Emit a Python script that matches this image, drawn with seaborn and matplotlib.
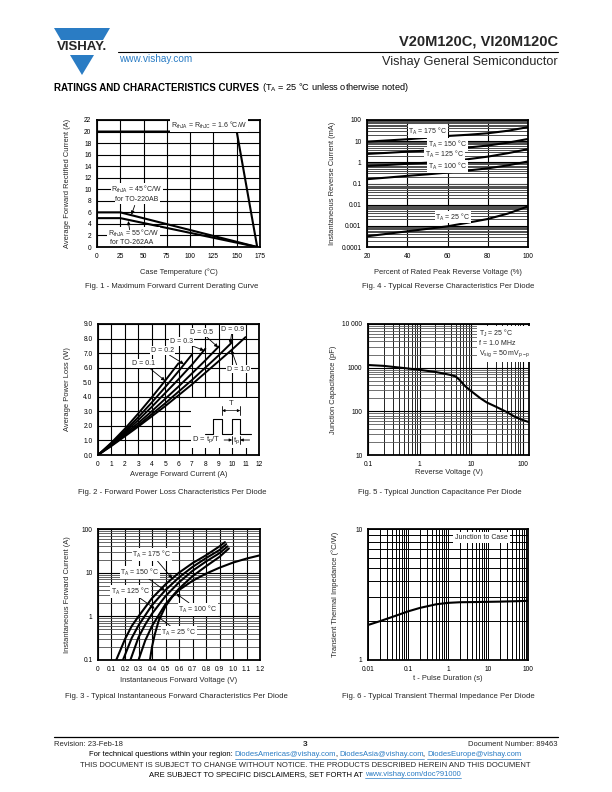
import numpy as np
import pandas as pd
import matplotlib
matplotlib.use("Agg")
import matplotlib.pyplot as plt
import seaborn as sns
from matplotlib.ticker import LogLocator, NullFormatter
from matplotlib.patches import Polygon, Rectangle
from matplotlib.lines import Line2D

# ---------------- data ----------------
# Fig. 1 - derating
f1_t_jc = [0, 150, 172]
f1_i_jc = [20, 20, 0]
f1_t_220 = [0, 25, 172]
f1_i_220 = [6, 6, 0]
f1_t_262 = [0, 25, 172]
f1_i_262 = [5, 5, 0]

# Fig. 4 - reverse current (mA) vs % of rated voltage
f4_pct = [20, 30, 40, 50, 60, 70, 80, 90, 100]
f4_175 = [9.5, 10.8, 12.3, 14.5, 17.6, 20.0, 23.6, 31.0, 46.0]
f4_150 = [2.5, 2.8, 3.2, 3.6, 4.2, 5.0, 6.2, 8.5, 12.7]
f4_125 = [0.68, 0.75, 0.85, 0.96, 1.1, 1.4, 1.86, 2.7, 4.2]
f4_100 = [0.16, 0.19, 0.23, 0.27, 0.33, 0.41, 0.52, 0.72, 1.1]
f4_25 = [0.00032, 0.00042, 0.00055, 0.00072, 0.00095, 0.0014, 0.0021, 0.0038, 0.0083]

# Fig. 2 - power loss vs average current, per duty cycle
f2_d01_i = [0, 1, 2, 3, 4, 5, 6]
f2_d01_p = [0, 0.85, 1.8, 2.85, 3.95, 5.1, 6.3]
f2_d02_i = [0, 1, 2, 3, 4, 5, 6, 7]
f2_d02_p = [0, 0.8, 1.65, 2.6, 3.6, 4.65, 5.75, 6.9]
f2_d03_i = [0, 1, 2, 3, 4, 5, 6, 7, 8]
f2_d03_p = [0, 0.75, 1.55, 2.4, 3.3, 4.25, 5.2, 6.2, 7.3]
f2_d05_i = [0, 1, 2, 3, 4, 5, 6, 7, 8, 9]
f2_d05_p = [0, 0.7, 1.45, 2.2, 3.0, 3.85, 4.7, 5.6, 6.5, 7.45]
f2_d09_i = [0, 1, 2, 3, 4, 5, 6, 7, 8, 9, 10]
f2_d09_p = [0, 0.65, 1.35, 2.05, 2.8, 3.55, 4.35, 5.15, 6.0, 6.85, 7.75]
f2_d10_i = [0, 1, 2, 3, 4, 5, 6, 7, 8, 9, 10, 11]
f2_d10_p = [0, 0.62, 1.28, 1.95, 2.65, 3.35, 4.1, 4.85, 5.65, 6.45, 7.25, 8.1]

# Fig. 5 - junction capacitance (pF) vs reverse voltage
f5_v = [0.1, 0.2, 0.5, 1, 2, 3, 4, 5, 6, 7, 8, 10, 15, 20, 30, 50, 70, 100, 130]
f5_c = [1150, 1100, 980, 890, 800, 730, 680, 630, 520, 420, 360, 290, 200, 160, 128, 95, 75, 63, 57]

# Fig. 3 - forward current (A) vs forward voltage
f3_175_v = [0.135, 0.2, 0.25, 0.3, 0.4, 0.5, 0.6, 0.7, 0.8, 0.9, 0.94]
f3_175_i = [0.1, 0.3, 0.6, 1.0, 2.6, 5.4, 10, 16.5, 25, 40, 50]
f3_150_v = [0.185, 0.25, 0.3, 0.4, 0.5, 0.6, 0.7, 0.8, 0.9, 0.95]
f3_150_i = [0.1, 0.32, 0.62, 1.8, 4.0, 7.8, 13.5, 21.5, 33, 45]
f3_125_v = [0.24, 0.3, 0.35, 0.4, 0.5, 0.6, 0.7, 0.8, 0.9, 0.96]
f3_125_i = [0.1, 0.33, 0.65, 1.15, 2.9, 6.0, 11, 18, 28, 40]
f3_100_v = [0.30, 0.35, 0.4, 0.5, 0.6, 0.7, 0.8, 0.9, 0.97]
f3_100_i = [0.1, 0.28, 0.6, 1.9, 4.3, 8.3, 14, 23, 36]
f3_25_v = [0.385, 0.4, 0.42, 0.45, 0.5, 0.55, 0.6, 0.7, 0.8, 0.9, 1.0, 1.1, 1.2]
f3_25_i = [0.1, 0.2, 0.38, 0.8, 1.7, 2.8, 4.0, 6.5, 9.5, 13, 17, 21, 25]

# Fig. 6 - transient thermal impedance
f6_t = [0.01, 0.02, 0.05, 0.1, 0.2, 0.5, 1, 2, 5, 10, 20, 50, 100]
f6_z = [1.85, 1.98, 2.18, 2.35, 2.5, 2.66, 2.73, 2.76, 2.77, 2.78, 2.79, 2.81, 2.83]

# ---------------- page setup ----------------
sns.set_style("white")
plt.rcParams["font.family"] = ["Liberation Sans", "DejaVu Sans"]
plt.rcParams["mathtext.fontset"] = "custom"
plt.rcParams["mathtext.rm"] = "Liberation Sans"
plt.rcParams["mathtext.it"] = "Liberation Sans:italic"
plt.rcParams["mathtext.bf"] = "Liberation Sans:bold"

W, H = 612, 792
BLUE = "#2a7cc4"
fig = plt.figure(figsize=(W / 100, H / 100), dpi=100)


def fx(x):
    return x / W


def fy(y):
    return 1 - y / H


def add_ax(x0, y0, x1, y1):
    return fig.add_axes([x0 / W, 1 - y1 / H, (x1 - x0) / W, (y1 - y0) / H])


def style_ax(ax, xlabel, ylabel, xlab_y, ylab_x):
    for s in ax.spines.values():
        s.set_visible(True)
        s.set_color("black")
        s.set_linewidth(1.3)
    ax.tick_params(which="both", length=0, labelsize=4.8, pad=4, colors="black")
    ax.set_axisbelow(True)
    ax.set_xlabel(xlabel, fontsize=5.4)
    ax.set_ylabel(ylabel, fontsize=5.4)
    bb = ax.get_position()
    ax.xaxis.set_label_coords((bb.x0 + bb.x1) / 2, fy(xlab_y), transform=fig.transFigure)
    ax.xaxis.label.set_va("center")
    ax.yaxis.set_label_coords(fx(ylab_x), (bb.y0 + bb.y1) / 2, transform=fig.transFigure)
    ax.yaxis.label.set_va("center")


def log_minor(axis):
    axis.set_minor_locator(LogLocator(base=10, subs=np.arange(2, 10), numticks=100))
    axis.set_minor_formatter(NullFormatter())


def curve(ax, x, y, lw=1.5):
    sns.lineplot(x=x, y=y, ax=ax, color="black", linewidth=lw, estimator=None, sort=False)


BOX = dict(fc="white", ec="none", pad=0.6)
ARROW = dict(arrowstyle="-|>", lw=0.6, color="black", mutation_scale=5, shrinkA=0, shrinkB=0)


def caption(x, y, s):
    fig.text(fx(x), fy(y), s, fontsize=5.6, ha="center", va="center")


# ---------------- Fig. 1 ----------------
ax1 = add_ax(97, 120, 260, 247)
ax1.grid(True, color="black", lw=0.8)
curve(ax1, f1_t_jc, f1_i_jc)
curve(ax1, f1_t_220, f1_i_220)
curve(ax1, f1_t_262, f1_i_262)
ax1.set_xlim(0, 175)
ax1.set_ylim(0, 22)
ax1.set_xticks(range(0, 176, 25))
ax1.set_yticks(range(0, 23, 2))
style_ax(ax1, "Case Temperature (°C)", "Average Forward Rectified Current (A)", 272, 67.5)
ax1.text(120, 21, r"R$_{\mathrm{thJA}}$ = R$_{\mathrm{thJC}}$ = 1.6 °C/W", fontsize=5, ha="center", va="center", bbox=BOX)
ax1.text(43, 9.9, r"R$_{\mathrm{thJA}}$ = 45 °C/W", fontsize=5, ha="center", va="center", bbox=BOX)
ax1.text(43, 8.2, "for TO-220AB", fontsize=5, ha="center", va="center", bbox=BOX)
ax1.annotate("", xy=(37, 5.6), xytext=(40.5, 7.2), arrowprops=ARROW)
ax1.text(39, 2.3, r"R$_{\mathrm{thJA}}$ = 55 °C/W", fontsize=5, ha="center", va="center", bbox=BOX)
ax1.text(37, 0.85, "for TO-262AA", fontsize=5, ha="center", va="center", bbox=BOX)
ax1.annotate("", xy=(33.5, 4.5), xytext=(35, 3.0), arrowprops=ARROW)
caption(172, 287, "Fig. 1 - Maximum Forward Current Derating Curve")

# ---------------- Fig. 4 ----------------
ax4 = add_ax(367, 120, 528, 247)
ax4.set_yscale("log")
ax4.set_xlim(20, 100)
ax4.set_ylim(0.0001, 100)
ax4.set_xticks([20, 40, 60, 80, 100])
ax4.set_yticks([0.0001, 0.001, 0.01, 0.1, 1, 10, 100])
ax4.set_yticklabels(["0.0001", "0.001", "0.01", "0.1", "1", "10", "100"])
log_minor(ax4.yaxis)
ax4.grid(True, axis="x", which="major", color="black", lw=0.8)
ax4.grid(True, axis="y", which="major", color="black", lw=0.8)
ax4.grid(True, axis="y", which="minor", color="0.3", lw=0.7)
for ys in [f4_175, f4_150, f4_125, f4_100, f4_25]:
    curve(ax4, f4_pct, ys)
for (x, y, t) in [(50.3, 28, "175"), (60, 7.1, "150"), (58.6, 2.4, "125"), (60, 0.63, "100"), (62.7, 0.0026, "25")]:
    ax4.text(x, y, r"T$_{\mathrm{A}}$ = " + t + " °C", fontsize=5, ha="center", va="center", bbox=BOX)
style_ax(ax4, "Percent of Rated Peak Reverse Voltage (%)", "Instantaneous Reverse Current (mA)", 273, 333)
caption(448, 287, "Fig. 4 - Typical Reverse Characteristics Per Diode")

# ---------------- Fig. 2 ----------------
ax2 = add_ax(98, 324, 259, 455)
ax2.grid(True, color="black", lw=0.8)
ax2.set_xlim(0, 12)
ax2.set_ylim(0, 9)
ax2.set_xticks(range(0, 13))
ax2.set_yticks(range(0, 10))
ax2.set_yticklabels([f"{v:.1f}" for v in range(0, 10)])
ax2.add_patch(Rectangle((6.9, 0.45), 5.1, 3.45, fc="white", ec="none", zorder=1))
for xs, ys in [(f2_d01_i, f2_d01_p), (f2_d02_i, f2_d02_p), (f2_d03_i, f2_d03_p),
               (f2_d05_i, f2_d05_p), (f2_d09_i, f2_d09_p), (f2_d10_i, f2_d10_p)]:
    curve(ax2, xs, ys, lw=1.4)
for label, txt_xy, tip in [("D = 0.1", (3.4, 6.3), (5.0, 5.1)),
                           ("D = 0.2", (4.8, 7.17), (6.4, 6.25)),
                           ("D = 0.3", (6.2, 7.8), (7.9, 7.18)),
                           ("D = 0.5", (7.75, 8.4), (8.95, 7.4)),
                           ("D = 0.9", (10.0, 8.63), (9.85, 7.62)),
                           ("D = 1.0", (10.45, 5.9), (9.95, 7.2))]:
    ax2.annotate(label, xy=tip, xytext=txt_xy, fontsize=5, ha="center", va="center",
                 bbox=BOX, arrowprops=ARROW)
# duty-cycle sketch
wave_x = [8.0, 8.6, 8.6, 9.25, 9.25, 10.0, 10.0, 10.6, 10.6, 11.4]
wave_y = [1.42, 1.42, 2.5, 2.5, 1.42, 1.42, 2.5, 2.5, 1.42, 1.42]
ax2.plot(wave_x, wave_y, color="black", lw=0.8)
for xv in (9.25, 10.6):
    ax2.plot([xv, xv], [2.75, 3.35], color="black", lw=0.6)
ax2.annotate("", xy=(9.25, 3.05), xytext=(10.6, 3.05),
             arrowprops=dict(arrowstyle="<|-|>", lw=0.5, color="black", mutation_scale=4, shrinkA=0, shrinkB=0))
ax2.text(9.93, 3.55, "T", fontsize=5.5, ha="center", va="center")
for xv in (10.0, 10.6):
    ax2.plot([xv, xv], [0.75, 1.3], color="black", lw=0.6)
ax2.annotate("", xy=(10.0, 1.03), xytext=(9.4, 1.03), arrowprops=dict(ARROW, mutation_scale=4))
ax2.annotate("", xy=(10.6, 1.03), xytext=(11.3, 1.03), arrowprops=dict(ARROW, mutation_scale=4))
ax2.text(10.3, 1.0, r"t$_{\mathrm{p}}$", fontsize=5.5, ha="center", va="center")
ax2.text(8.05, 1.03, r"D = t$_{\mathrm{p}}$/T", fontsize=5.5, ha="center", va="center")
style_ax(ax2, "Average Forward Current (A)", "Average Power Loss (W)", 475, 67.5)
caption(172, 492, "Fig. 2 - Forward Power Loss Characteristics Per Diode")

# ---------------- Fig. 5 ----------------
ax5 = add_ax(368, 324, 529, 455)
ax5.set_xscale("log")
ax5.set_yscale("log")
ax5.set_xlim(0.1, 132)
ax5.set_ylim(10, 10000)
ax5.set_xticks([0.1, 1, 10, 100])
ax5.set_xticklabels(["0.1", "1", "10", "100"])
ax5.set_yticks([10, 100, 1000, 10000])
ax5.set_yticklabels(["10", "100", "1000", "10 000"])
log_minor(ax5.xaxis)
log_minor(ax5.yaxis)
ax5.grid(True, which="major", color="black", lw=0.8)
ax5.grid(True, axis="x", which="minor", color="black", lw=0.6)
ax5.grid(True, axis="y", which="minor", color="0.35", lw=0.6)
curve(ax5, f5_v, f5_c)
ax5.text(14, 8300, "T$_{\\mathrm{J}}$ = 25 °C\nf = 1.0 MHz\nV$_{\\mathrm{sig}}$ = 50 mV$_{\\mathrm{p-p}}$",
         fontsize=5, ha="left", va="top", linespacing=1.25, bbox=dict(fc="white", ec="none", pad=1.5))
style_ax(ax5, "Reverse Voltage (V)", "Junction Capacitance (pF)", 473, 334)
caption(440, 492, "Fig. 5 - Typical Junction Capacitance Per Diode")

# ---------------- Fig. 3 ----------------
ax3 = add_ax(98, 529, 260, 660)
ax3.set_yscale("log")
ax3.set_xlim(0, 1.2)
ax3.set_ylim(0.1, 100)
ax3.set_xticks(np.round(np.arange(0, 1.21, 0.1), 1))
ax3.set_xticklabels(["0"] + [f"{v / 10:.1f}" for v in range(1, 13)])
ax3.set_yticks([0.1, 1, 10, 100])
ax3.set_yticklabels(["0.1", "1", "10", "100"])
log_minor(ax3.yaxis)
ax3.grid(True, which="major", color="black", lw=0.8)
ax3.grid(True, axis="y", which="minor", color="0.3", lw=0.6)
for xs, ys in [(f3_175_v, f3_175_i), (f3_150_v, f3_150_i), (f3_125_v, f3_125_i),
               (f3_100_v, f3_100_i), (f3_25_v, f3_25_i)]:
    curve(ax3, xs, ys)
for t, txt_xy, tip in [("175", (0.40, 26), (0.55, 7.4)),
                       ("150", (0.31, 10.2), (0.495, 3.9)),
                       ("125", (0.243, 3.7), (0.42, 1.5)),
                       ("100", (0.74, 1.45), (0.58, 3.3)),
                       ("25", (0.6, 0.43), (0.44, 1.0))]:
    ax3.annotate(r"T$_{\mathrm{A}}$ = " + t + " °C", xy=tip, xytext=txt_xy, fontsize=5,
                 ha="center", va="center", bbox=BOX, arrowprops=ARROW)
style_ax(ax3, "Instantaneous Forward Voltage (V)", "Instantaneous Forward Current (A)", 681, 67.5)
caption(176, 697, "Fig. 3 - Typical Instantaneous Forward Characteristics Per Diode")

# ---------------- Fig. 6 ----------------
ax6 = add_ax(368, 529, 528, 660)
ax6.set_xscale("log")
ax6.set_yscale("log")
ax6.set_xlim(0.01, 100)
ax6.set_ylim(1, 10)
ax6.set_xticks([0.01, 0.1, 1, 10, 100])
ax6.set_xticklabels(["0.01", "0.1", "1", "10", "100"])
ax6.set_yticks([1, 10])
ax6.set_yticklabels(["1", "10"])
log_minor(ax6.xaxis)
log_minor(ax6.yaxis)
ax6.grid(True, which="both", color="black", lw=0.7)
curve(ax6, f6_t, f6_z)
ax6.text(7, 8.6, "Junction to Case", fontsize=5, ha="center", va="center", bbox=dict(fc="white", ec="none", pad=1.5))
style_ax(ax6, "t - Pulse Duration (s)", "Transient Thermal Impedance (°C/W)", 678, 335)
caption(438, 697, "Fig. 6 - Typical Transient Thermal Impedance Per Diode")

# ---------------- header ----------------
fig.add_artist(Polygon([(fx(54), fy(28)), (fx(110), fy(28)), (fx(103), fy(40)), (fx(61), fy(40))],
                       closed=True, fc=BLUE, ec="none", transform=fig.transFigure))
fig.add_artist(Polygon([(fx(70), fy(55)), (fx(94), fy(55)), (fx(82), fy(75))],
                       closed=True, fc=BLUE, ec="none", transform=fig.transFigure))
fig.text(fx(82), fy(47.5), "VISHAY.", fontsize=9.5, fontweight="bold", ha="center", va="center")
fig.text(fx(558), fy(42), "V20M120C, VI20M120C", fontsize=10.5, fontweight="bold", ha="right", va="center")
fig.add_artist(Line2D([fx(118), fx(558)], [fy(52), fy(52)], color="black", lw=0.8))
fig.text(fx(119), fy(59.5), "www.vishay.com", fontsize=7.2, color=BLUE, ha="left", va="center")
fig.text(fx(558), fy(62), "Vishay General Semiconductor", fontsize=9.2, ha="right", va="center")

renderer = fig.canvas.get_renderer()


def text_run(x, y, pieces, align="left"):
    # pieces: (text, color, weight, size, underline, gap_after_px)
    made = []
    for txt, color, weight, size, under, gap in pieces:
        t = fig.text(0, fy(y), txt, color=color, fontsize=size, fontweight=weight, ha="left", va="center")
        made.append((t, t.get_window_extent(renderer).width, color, under, gap))
    total = sum(w + g for _, w, _, _, g in made)
    cur = x - total / 2 if align == "center" else x
    for t, w, color, under, gap in made:
        t.set_x(fx(cur))
        if under:
            fig.add_artist(Line2D([fx(cur), fx(cur + w)], [fy(y + 3.6)] * 2, color=color, lw=0.5))
        cur += w + gap


text_run(54, 88, [("RATINGS AND CHARACTERISTICS CURVES", "black", "bold", 7.0, False, 2.8),
                  (r"(T$_{\mathrm{A}}$ = 25 °C unless otherwise noted)", "black", "normal", 6.6, False, 0)])

# ---------------- footer ----------------
FS = 5.5
fig.add_artist(Line2D([fx(54), fx(558)], [fy(737), fy(737)], color="black", lw=0.9))
fig.text(fx(54), fy(744), "Revision: 23-Feb-18", fontsize=FS, ha="left", va="center")
fig.text(fx(305), fy(744.5), "3", fontsize=6, fontweight="bold", ha="center", va="center")
fig.text(fx(558), fy(744), "Document Number: 89463", fontsize=FS, ha="right", va="center")
text_run(305, 755, [("For technical questions within your region:", "black", "normal", FS, False, 2.0),
                    ("DiodesAmericas@vishay.com", BLUE, "normal", FS, True, -1.0),
                    (",", "black", "normal", FS, False, 2.0),
                    ("DiodesAsia@vishay.com", BLUE, "normal", FS, True, -1.0),
                    (",", "black", "normal", FS, False, 2.0),
                    ("DiodesEurope@vishay.com", BLUE, "normal", FS, True, 0)], align="center")
fig.text(fx(305), fy(765.5), "THIS DOCUMENT IS SUBJECT TO CHANGE WITHOUT NOTICE. THE PRODUCTS DESCRIBED HEREIN AND THIS DOCUMENT",
         fontsize=FS, ha="center", va="center")
text_run(305, 774.5, [("ARE SUBJECT TO SPECIFIC DISCLAIMERS, SET FORTH AT", "black", "normal", FS, False, 2.0),
                      ("www.vishay.com/doc?91000", BLUE, "normal", FS, True, 0)], align="center")

fig.savefig("out.png", dpi=100)
